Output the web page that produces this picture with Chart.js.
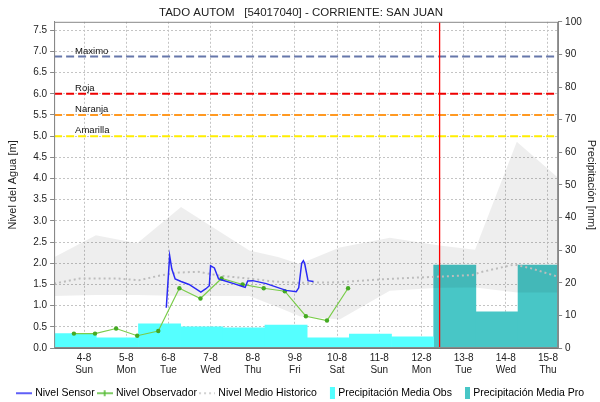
<!DOCTYPE html>
<html>
<head>
<meta charset="utf-8">
<script src="https://cdn.jsdelivr.net/npm/chart.js@4.4.0/dist/chart.umd.min.js"></script>
<style>
  html, body { margin: 0; padding: 0; background: #fff; }
  #chart { display: block; }
</style>
</head>
<body>
<canvas id="chart" width="600" height="402"></canvas>
<script>
// x values are day-of-month (August), fractional part = time of day

// tick labels
const dayTicks = ["4-8", "5-8", "6-8", "7-8", "8-8", "9-8", "10-8", "11-8", "12-8", "13-8", "14-8", "15-8"];
const dayNames = ["Sun", "Mon", "Tue", "Wed", "Thu", "Fri", "Sat", "Sun", "Mon", "Tue", "Wed", "Thu"];

// Nivel Sensor [m]
const sensorDays = [5.95, 6.03, 6.08, 6.16, 6.30, 6.49, 6.77, 6.89, 6.97, 7.00, 7.09, 7.19, 7.29, 7.55,
                    7.76, 7.82, 7.88, 8.00, 8.32, 8.79, 9.03, 9.09, 9.16, 9.20, 9.23, 9.31, 9.44];
const sensorLevel = [0.95, 2.18, 1.87, 1.63, 1.57, 1.50, 1.32, 1.40, 1.47, 1.94, 1.89, 1.63, 1.60, 1.52,
                     1.45, 1.43, 1.58, 1.59, 1.52, 1.36, 1.33, 1.42, 2.00, 2.06, 2.00, 1.59, 1.57];

// Nivel Observador [m]
const obsDays = [3.76, 4.26, 4.76, 5.26, 5.76, 6.26, 6.76, 7.26, 7.76, 8.26, 8.76, 9.26, 9.76, 10.26];
const obsLevel = [0.34, 0.34, 0.46, 0.29, 0.40, 1.41, 1.17, 1.64, 1.50, 1.41, 1.34, 0.75, 0.65, 1.41];

// Nivel Medio Historico [m]
const medianDays = [3.29, 3.9, 4.8, 5.3, 5.8, 6.25, 6.7, 7.2, 7.9, 8.5, 9.1, 10.0, 11.2, 12.3, 13.2, 13.4, 14.2, 14.6, 15.24];
const medianLevel = [1.52, 1.64, 1.64, 1.60, 1.71, 1.78, 1.80, 1.71, 1.64, 1.57, 1.54, 1.55, 1.63, 1.68, 1.72, 1.79, 1.97, 1.88, 1.68];

// historical min / max band [m]
const bandDays = [3.29, 4.28, 5.26, 6.30, 7.92, 8.6, 9.11, 10.06, 11.25, 12.43, 13.27, 14.26, 15.24];
const bandHigh = [2.14, 2.66, 2.47, 3.33, 2.30, 2.15, 1.98, 2.37, 2.60, 2.42, 2.32, 4.87, 4.02];
const bandLow = [1.23, 1.25, 1.25, 1.23, 1.23, 0.96, 0.75, 0.67, 1.35, 1.42, 1.43, 1.31, 1.31];

// precipitation [mm], bar centres
const rainObsDays = [3.79, 4.79, 5.79, 6.79, 7.79, 8.79, 9.79, 10.79, 11.79];
const rainObs = [4.4, 3.1, 7.4, 6.5, 6.2, 7.0, 3.1, 4.3, 3.4];
const rainProDays = [12.79, 13.79, 14.79];
const rainPro = [25.4, 11.1, 25.4];

// alert levels [m]
const alertNames = ["Maximo", "Roja", "Naranja", "Amarilla"];
const alertLevels = [6.88, 6.0, 5.5, 5.0];
const alertColors = ["#6677aa", "#ee0000", "#ff9922", "#ffee00"];

const nowDay = 12.43;
const xMin = 3.29, xMax = 15.24;

const toPoints = (xs, ys) => xs.map((x, i) => ({ x: x, y: ys[i] }));

Chart.defaults.font.family = "'Liberation Sans', Arial, sans-serif";
Chart.defaults.color = "#222";

// small canvases used as legend symbols
function makeIcon(draw) {
    const c = document.createElement("canvas");
    c.width = 16;
    c.height = 12;
    draw(c.getContext("2d"));
    return c;
}
const iconLine = (color, dash, mark) => makeIcon(g => {
    g.strokeStyle = color;
    g.lineWidth = 1.5;
    g.setLineDash(dash);
    g.beginPath(); g.moveTo(0, 6); g.lineTo(16, 6); g.stroke();
    if (mark) {
        g.setLineDash([]);
        g.beginPath(); g.moveTo(8, 3); g.lineTo(8, 9); g.stroke();
    }
});
const iconBox = color => makeIcon(g => {
    g.fillStyle = color;
    g.fillRect(11, 0, 5, 12);
});

const datasets = [];
datasets.push({
    label: "Nivel Sensor", type: "line", data: toPoints(sensorDays, sensorLevel),
    borderColor: "#2a2af5", borderWidth: 1.5, pointRadius: 0, yAxisID: "y", order: 0,
    legendIcon: iconLine("#2a2af5", [])
});
datasets.push({
    label: "Nivel Observador", type: "line", data: toPoints(obsDays, obsLevel),
    borderColor: "#7acc4a", borderWidth: 1.2, pointRadius: 2.2, pointBackgroundColor: "#44aa22",
    pointBorderWidth: 0, yAxisID: "y", order: 1,
    legendIcon: iconLine("#55bb33", [], true)
});
datasets.push({
    label: "Nivel Medio Historico", type: "line", data: toPoints(medianDays, medianLevel),
    borderColor: "#bdbdbd", borderWidth: 2, borderDash: [2, 3], pointRadius: 0, yAxisID: "y", order: 2,
    legendIcon: iconLine("#c4c4c4", [2, 3])
});
datasets.push({
    label: "Precipitación Media Obs", type: "bar", data: toPoints(rainObsDays, rainObs),
    backgroundColor: "#55ffff", borderWidth: 0, yAxisID: "y1", order: 6,
    grouped: false, barPercentage: 1, categoryPercentage: 1,
    legendIcon: iconBox("#55ffff")
});
datasets.push({
    label: "Precipitación Media Pro", type: "bar", data: toPoints(rainProDays, rainPro),
    backgroundColor: "#48c6c6", borderWidth: 0, yAxisID: "y1", order: 6,
    grouped: false, barPercentage: 1, categoryPercentage: 1,
    legendIcon: iconBox("#48c6c6")
});
datasets.push({
    label: "min", type: "line", data: toPoints(bandDays, bandLow),
    borderWidth: 0, pointRadius: 0, fill: false, yAxisID: "y", order: 4
});
datasets.push({
    label: "max", type: "line", data: toPoints(bandDays, bandHigh),
    borderWidth: 0, pointRadius: 0, fill: "-1", backgroundColor: "rgba(0,0,0,0.065)", yAxisID: "y", order: 4
});
alertNames.forEach((name, i) => {
    datasets.push({
        label: name, type: "line", alertLabel: true,
        data: [{ x: xMin, y: alertLevels[i] }, { x: xMax, y: alertLevels[i] }],
        borderColor: alertColors[i], borderWidth: 2, borderDash: [8, 4], pointRadius: 0, yAxisID: "y", order: 3
    });
});
datasets.push({
    label: "now", type: "line", data: [{ x: nowDay, y: 0 }, { x: nowDay, y: 7.7 }],
    borderColor: "#ff0000", backgroundColor: "#ff0000", borderWidth: 1.3, pointRadius: 0,
    yAxisID: "y", order: 2.5
});

// labels above the alert lines + frame round the plot
const alertText = {
    id: "alertText",
    afterDatasetsDraw(chart) {
        const ctx = chart.ctx;
        const area = chart.chartArea;
        ctx.save();
        ctx.font = "9.5px 'Liberation Sans', Arial, sans-serif";
        ctx.fillStyle = "#111";
        ctx.textBaseline = "alphabetic";
        chart.data.datasets.forEach(ds => {
            if (!ds.alertLabel) return;
            const y = chart.scales.y.getPixelForValue(ds.data[0].y);
            ctx.fillText(ds.label, area.left + 21, y - 3);
        });
        ctx.strokeStyle = "#888";
        ctx.lineWidth = 1;
        ctx.strokeRect(area.left + 0.5, area.top + 0.5, area.right - area.left - 1, area.bottom - area.top - 1);
        ctx.restore();
    }
};

const gridColor = "#c4c4c4";

new Chart(document.getElementById("chart"), {
    type: "line",
    data: { datasets: datasets },
    plugins: [alertText],
    options: {
        responsive: false,
        animation: false,
        layout: { padding: { left: 2, right: 0, top: 0, bottom: 0 } },
        plugins: {
            title: {
                display: true,
                text: "TADO AUTOM   [54017040] - CORRIENTE: SAN JUAN",
                font: { size: 11.5, weight: "normal" },
                color: "#222",
                padding: { top: 6, bottom: 2 }
            },
            tooltip: { enabled: false },
            legend: {
                position: "bottom",
                maxHeight: 18,
                labels: {
                    usePointStyle: true,
                    pointStyleWidth: 12,
                    font: { size: 10.5 },
                    color: "#222",
                    padding: 4,
                    generateLabels: chart => chart.data.datasets
                        .map((ds, i) => ({
                            text: ds.label, datasetIndex: i, pointStyle: ds.legendIcon,
                            fillStyle: "rgba(0,0,0,0)", strokeStyle: "rgba(0,0,0,0)", lineWidth: 0, hidden: false
                        }))
                        .filter(item => item.pointStyle)
                }
            }
        },
        scales: {
            x: {
                type: "linear",
                min: xMin,
                max: xMax,
                offset: false,
                afterFit: scale => { scale.height += 4; },
                ticks: {
                    stepSize: 1,
                    includeBounds: false,
                    autoSkip: false,
                    maxRotation: 0,
                    padding: 4,
                    font: { size: 10 },
                    color: "#222",
                    callback: v => {
                        const i = Math.round(v) - 4;
                        return [dayTicks[i], dayNames[i]];
                    }
                },
                grid: { color: gridColor, drawTicks: false, offset: false },
                border: { color: "#777", dash: [2, 2] }
            },
            y: {
                position: "left",
                min: 0,
                max: 7.7,
                ticks: {
                    stepSize: 0.5,
                    includeBounds: false,
                    font: { size: 10 },
                    color: "#222",
                    padding: 3,
                    callback: v => v.toFixed(1)
                },
                grid: { color: gridColor, tickLength: 4, tickColor: "#888" },
                border: { color: "#888", dash: [2, 2] },
                title: { display: true, text: "Nivel del Agua [m]", font: { size: 11 }, color: "#222", padding: { top: 4, bottom: 11 } }
            },
            y1: {
                position: "right",
                min: 0,
                max: 100,
                ticks: { stepSize: 10, font: { size: 10 }, color: "#222", padding: 3 },
                grid: { drawOnChartArea: false, tickLength: 4, tickColor: "#888" },
                border: { color: "#888" },
                title: { display: true, text: "Precipitación [mm]", font: { size: 11 }, color: "#222", padding: { top: 2, bottom: 0 } }
            }
        }
    }
});
</script>
</body>
</html>
